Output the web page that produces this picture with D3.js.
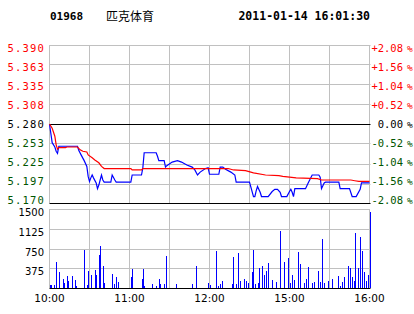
<!DOCTYPE html>
<html>
<head>
<meta charset="utf-8">
<script src="https://cdn.jsdelivr.net/npm/d3@7"></script>
<style>
body{margin:0;background:#fff;}
svg text{font-family:"DejaVu Sans",sans-serif;}
</style>
</head>
<body>
<div class="graphHere"></div>
<script>
// header
var stockCode = "01968";
var stockName = "匹克体育";
var stamp = "2011-01-14 16:01:30";
var prevClose = 5.28;

// axis labels
var priceTicks = ["5.390","5.363","5.335","5.308","5.280","5.253","5.225","5.197","5.170"];
var pctTicks = ["+2.08","+1.56","+1.04","+0.52","0.00","-0.52","-1.04","-1.56","-2.08"];
var volTicks = [1500,1125,750,375];
var timeLabels = ["10:00","11:00","12:00","15:00","16:00"];
var timeAt = [0,60,120,180,240]; // minute index of each label (session 10:00-12:30, 14:30-16:00)

// [minute, price]
var priceLine = [[0,5.280],[2,5.254],[4,5.248],[5,5.242],[6,5.239],[7,5.249],[21,5.249],[22,5.243],[24,5.236],
  [26,5.229],[28,5.221],[29,5.207],[30,5.200],[31,5.205],[32,5.209],[33,5.205],[35,5.198],[36,5.190],[37,5.195],
  [38,5.202],[39,5.209],[40,5.202],[41,5.199],[46,5.199],[47,5.209],[49,5.202],[50,5.199],[61,5.199],[62,5.209],
  [69,5.209],[70,5.219],[71,5.240],[80,5.240],[81,5.235],[82,5.229],[86,5.229],[87,5.220],[88,5.222],[92,5.227],
  [96,5.229],[99,5.227],[103,5.223],[107,5.220],[109,5.216],[111,5.209],[113,5.213],[117,5.218],[119,5.219],
  [120,5.210],[127,5.210],[128,5.220],[130,5.220],[132,5.217],[136,5.213],[139,5.209],[140,5.199],[150,5.199],
  [153,5.179],[154,5.179],[155,5.187],[156,5.193],[158,5.185],[159,5.179],[164,5.179],[167,5.186],[169,5.189],
  [171,5.189],[173,5.185],[174,5.179],[178,5.179],[180,5.186],[181,5.189],[182,5.185],[183,5.179],[184,5.190],
  [192,5.190],[194,5.198],[197,5.209],[202,5.209],[203,5.206],[204,5.190],[206,5.198],[207,5.199],[217,5.199],
  [218,5.190],[225,5.190],[227,5.179],[230,5.179],[233,5.189],[234,5.198],[240,5.198]];

// [minute, average price]
var avgLine = [[0,5.280],[2,5.274],[4,5.263],[5,5.251],[6,5.245],[7,5.247],[12,5.247],[13,5.248],[21,5.248],
  [23,5.244],[25,5.242],[28,5.241],[29,5.237],[32,5.233],[34,5.230],[37,5.226],[39,5.221],[41,5.218],[61,5.218],
  [62,5.216],[69,5.216],[70,5.218],[134,5.218],[138,5.216],[147,5.215],[153,5.212],[162,5.209],[172,5.208],
  [175,5.207],[180,5.206],[185,5.205],[201,5.204],[204,5.202],[226,5.202],[229,5.201],[232,5.200],[240,5.200]];

// [minute, volume]
var volBars = [[0,55],[1,55],[3,55],[5,500],[7,310],[10,170],[11,100],[13,228],[14,140],[17,228],[19,152],[20,38],
  [26,722],[28,57],[29,323],[31,247],[34,342],[35,247],[37,627],[38,798],[40,418],[41,100],[47,266],[48,76],
  [50,203],[51,120],[61,203],[62,355],[69,165],[70,355],[71,38],[77,76],[80,38],[82,165],[83,76],[86,76],[87,608],
  [95,76],[107,76],[110,418],[119,100],[120,57],[125,703],[126,38],[128,76],[129,133],[137,76],[138,595],[140,76],
  [141,671],[143,133],[146,171],[147,133],[149,100],[152,310],[153,722],[154,76],[156,100],[157,374],[159,418],
  [161,247],[162,329],[164,481],[167,152],[170,114],[173,1083],[176,494],[179,570],[180,95],[182,247],[183,152],
  [186,684],[188,456],[191,95],[192,171],[194,399],[197,95],[198,120],[201,323],[203,120],[204,931],[206,95],
  [209,140],[212,171],[216,228],[218,38],[219,120],[221,209],[224,418],[225,380],[227,209],[228,133],[229,1045],
  [231,380],[233,969],[234,703],[236,304],[237,133],[239,247],[240,1444]];

var W = 414, H = 314;
var grid = "#c0c0c0", red = "#ff0000", green = "#005500", blue = "#0000ff";

var svg = d3.select(".graphHere").append("svg")
  .attr("width", W)
  .attr("height", H);

var x = d3.scaleLinear().domain([0, 240]).range([49.5, 369.5]);
var yP = d3.scaleLinear().domain([5.17, 5.39]).range([203, 45]);
var yV = d3.scaleLinear().domain([0, 1500]).range([288, 209]);
// price labels are spread a bit inside the panel so the end ones do not collide
var yLab = d3.scalePoint().domain(priceTicks).range([47.7, 200]);
function px(v){ return Math.round(v) + 0.5; }

// header
svg.append("text").attr("x", 50).attr("y", 20)
  .style("font-family", "'DejaVu Sans Mono',monospace").style("font-weight", "bold").style("font-size", "11px")
  .text(stockCode);
svg.append("text").attr("x", 106).attr("y", 21)
  .style("font-family", "'Noto Sans CJK SC',sans-serif").style("font-size", "12px")
  .text(stockName);
svg.append("text").attr("x", 370).attr("y", 20).attr("text-anchor", "end")
  .style("font-family", "'DejaVu Sans Mono',monospace").style("font-weight", "bold").style("font-size", "11.5px")
  .text(stamp);

// vertical grid (every half hour)
var halfHours = d3.range(0, 241, 30);
[[45, 203], [209, 288]].forEach(function(r){
  svg.append("g").selectAll("line").data(halfHours).enter().append("line")
    .attr("x1", function(d){ return x(d); }).attr("x2", function(d){ return x(d); })
    .attr("y1", r[0]).attr("y2", r[1])
    .attr("stroke", grid);
});

// price grid + labels
priceTicks.forEach(function(t, i){
  var v = +t, y = px(yP(v));
  var strong = (v === prevClose || i === priceTicks.length - 1);
  svg.append("line").attr("x1", x(0)).attr("x2", x(240) + 1).attr("y1", y).attr("y2", y)
    .attr("stroke", strong ? "#000" : grid);
  var col = v > prevClose ? red : (v < prevClose ? green : "#000");
  var ly = yLab(t) + 4;
  svg.append("text").attr("x", 45).attr("y", ly).attr("text-anchor", "end")
    .style("font-family", "'DejaVu Sans Mono',monospace").style("font-size", "10.5px")
    .style("letter-spacing", "1.2px").attr("fill", col).text(t);
  svg.append("text").attr("x", 403).attr("y", ly).attr("text-anchor", "end")
    .style("font-family", "'DejaVu Sans Mono',monospace").style("font-size", "10.5px")
    .attr("fill", col).text(pctTicks[i]);
  svg.append("text").attr("x", 407).attr("y", ly)
    .style("font-family", "'DejaVu Sans Mono',monospace").style("font-size", "9.5px")
    .attr("fill", col).text("%");
});

// volume grid + labels
volTicks.forEach(function(t){
  var y = px(yV(t));
  svg.append("line").attr("x1", x(0)).attr("x2", x(240)).attr("y1", y).attr("y2", y).attr("stroke", grid);
  svg.append("text").attr("x", 44).attr("y", y + 6.5).attr("text-anchor", "end")
    .style("font-size", "10px").attr("fill", "#000").text(t);
});
svg.append("line").attr("x1", x(0)).attr("x2", x(240) + 1).attr("y1", px(yV(0))).attr("y2", px(yV(0)))
  .attr("stroke", "#000");

// time labels
timeLabels.forEach(function(t, i){
  svg.append("text").attr("x", x(timeAt[i])).attr("y", 302).attr("text-anchor", "middle")
    .style("font-size", "10.5px").attr("fill", "#000").text(t);
});

// volume bars
svg.append("g").selectAll("rect").data(volBars).enter().append("rect")
  .attr("x", function(d){ return Math.round(x(d[0])); })
  .attr("width", 1)
  .attr("y", function(d){ return Math.round(yV(d[1])); })
  .attr("height", function(d){ return Math.round(yV(0)) - Math.round(yV(d[1])); })
  .attr("fill", blue)
  .attr("shape-rendering", "crispEdges");

// lines
var line = d3.line().x(function(d){ return x(d[0]); }).y(function(d){ return yP(d[1]); });
svg.append("path").datum(priceLine).attr("d", line)
  .attr("fill", "none").attr("stroke", blue).attr("stroke-width", 1.2);
svg.append("path").datum(avgLine).attr("d", line)
  .attr("fill", "none").attr("stroke", red).attr("stroke-width", 1.2);
</script>
</body>
</html>
